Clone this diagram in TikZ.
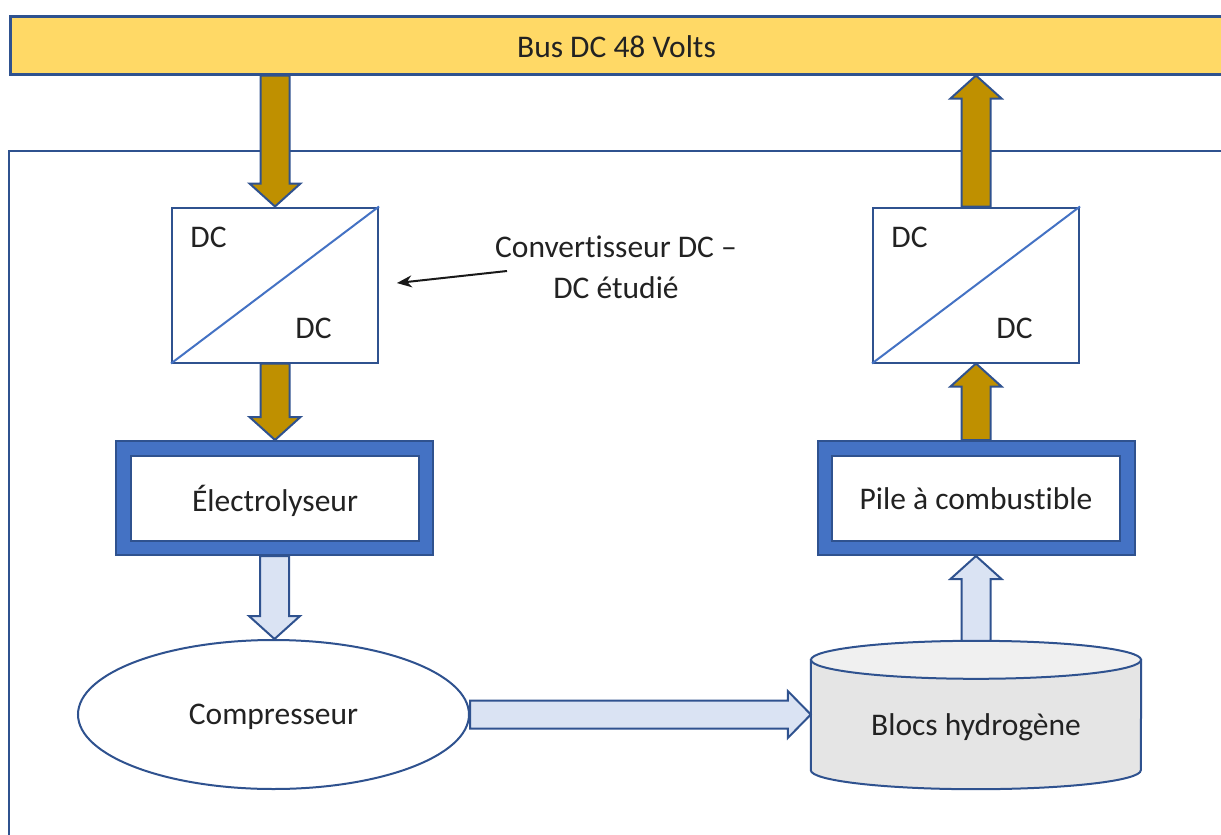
\documentclass[tikz,border=0pt]{standalone}
\usepackage{fontspec}
\setmainfont{Carlito}[Ligatures={NoCommon}]
\usetikzlibrary{calc,shapes.geometric,arrows.meta}
\definecolor{dkblue}{HTML}{2F528F}
\definecolor{midblue}{HTML}{4472C4}
\definecolor{busfill}{HTML}{FFD966}
\definecolor{goldarrow}{HTML}{BF9000}
\definecolor{lightarrow}{HTML}{DAE3F3}
\definecolor{tankbody}{HTML}{E5E5E5}
\definecolor{tanktop}{HTML}{F0F0F0}
\definecolor{txtcol}{HTML}{222222}
\newcommand\blockvert[3]{%
  \draw[#1] let \p1=(#2), \p2=(#3), \n1={sign(\y2-\y1)} in
    (\x1-14.5pt,\y1) -- (\x1-14.5pt,\y2-\n1*23pt) -- (\x1-25.5pt,\y2-\n1*23pt)
    -- (\x1,\y2) -- (\x1+25.5pt,\y2-\n1*23pt) -- (\x1+14.5pt,\y2-\n1*23pt)
    -- (\x1+14.5pt,\y1) -- cycle;}
\newcommand\blockhorz[3]{%
  \draw[#1] let \p1=(#2), \p2=(#3), \n1={sign(\x2-\x1)} in
    (\x1,\y1-14pt) -- (\x2-\n1*23pt,\y1-14pt) -- (\x2-\n1*23pt,\y1-23.5pt)
    -- (\x2,\y1) -- (\x2-\n1*23pt,\y1+23.5pt) -- (\x2-\n1*23pt,\y1+14pt)
    -- (\x1,\y1+14pt) -- cycle;}
\tikzset{
  every node/.style={text=txtcol, font=\fontsize{31.5}{41}\selectfont},
  busbox/.style={rectangle, draw=dkblue, fill=busfill, line width=2.5pt, inner sep=0pt},
  framebox/.style={draw=dkblue, line width=2.5pt},
  convbox/.style={rectangle, draw=dkblue, fill=white, line width=2pt, inner sep=0pt,
    minimum width=206pt, minimum height=155pt},
  diag/.style={draw=midblue, line width=2pt},
  outerbox/.style={rectangle, draw=dkblue, fill=midblue, line width=2pt, inner sep=0pt,
    minimum width=317pt, minimum height=114pt},
  innerbox/.style={rectangle, draw=dkblue, fill=white, line width=2pt, inner sep=0pt,
    minimum width=288pt, minimum height=85pt, text depth=0pt},
  goldarr/.style={fill=goldarrow, draw=dkblue, line width=2pt, line join=miter},
  lightarr/.style={fill=lightarrow, draw=dkblue, line width=2pt, line join=miter},
  compnode/.style={ellipse, draw=dkblue, fill=white, line width=2pt, inner sep=0pt,
    minimum width=391pt, minimum height=149pt, text depth=0pt},
  note/.style={-{Stealth[length=15pt,width=12pt]}, draw=black!90, line width=2pt},
}
\begin{document}
\begin{tikzpicture}[x=1pt,y=-1pt]
\useasboundingbox (0,0) rectangle (1221,835);
\clip (0,0) rectangle (1221,835);
% outer frame
\draw[framebox] (1240,151) -- (9,151) -- (9,850);
% bus
\node[busbox, minimum width=1216pt, minimum height=58pt, anchor=north west] (bus) at (9,15) {};
\node[anchor=base] (bustxt) at (616.5,57) {Bus DC 48 Volts};
% converters
\node[convbox] (c1) at (275,285) {};
\draw[diag] (c1.south west) -- (c1.north east);
\node[anchor=base] (c1a) at ($(c1.north west)+(37.5,41)$) {DC};
\node[anchor=base] (c1b) at ($(c1.north west)+(142.5,132)$) {DC};
\node[convbox] (c2) at (976,285) {};
\draw[diag] (c2.south west) -- (c2.north east);
\node[anchor=base] (c2a) at ($(c2.north west)+(37.5,41)$) {DC};
\node[anchor=base] (c2b) at ($(c2.north west)+(142.5,132)$) {DC};
% annotation
\node[anchor=base, align=center] (notetxt) at (616,298) {Convertisseur DC –\\DC étudié};
\coordinate (notestart) at (507,271);
\draw[note, shorten >=18pt] (notestart) -- (c1.east);
% electrolyser and fuel cell
\node[outerbox] (elec) at (274.5,498) {};
\node[innerbox] (eleci) at (275,498.5) {Électrolyseur};
\node[outerbox] (pile) at (976,498) {};
\node[innerbox] (pilei) at (976,498.5) {Pile à combustible};
% compressor
\node[compnode] (comp) at (273.5,714.5) {Compresseur};
% tank
\node[rectangle, inner sep=0pt, minimum width=330pt, minimum height=110pt] (tank) at (976,715) {};
\filldraw[fill=tankbody, draw=dkblue, line width=2pt]
  (tank.north west) -- (tank.south west)
  arc[start angle=180, end angle=360, x radius=165pt, y radius=19pt]
  -- (tank.north east) -- cycle;
\filldraw[fill=tanktop, draw=dkblue, line width=2pt] (tank.north) ellipse[x radius=165pt, y radius=19pt];
\node[anchor=base] (tanklbl) at (976,735) {Blocs hydrogène};
% block arrows
\blockvert{goldarr}{c1.north |- bus.south}{c1.north}
\blockvert{goldarr}{c1.south}{elec.north}
\blockvert{lightarr}{elec.south}{comp.north}
\blockhorz{lightarr}{comp.east}{tank.west |- comp.east}
\blockvert{lightarr}{$(tank.north)+(0,-19)$}{pile.south}
\blockvert{goldarr}{pile.north}{c2.south}
\blockvert{goldarr}{c2.north}{c2.north |- bus.south}
\end{tikzpicture}
\end{document}
